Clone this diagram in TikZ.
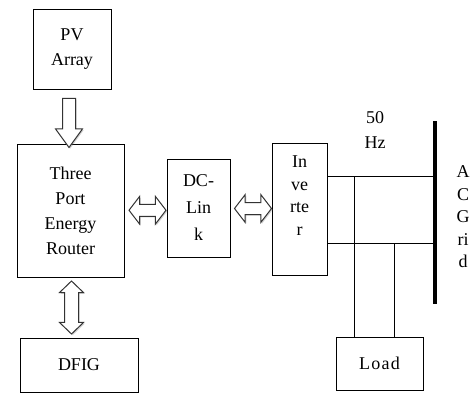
\documentclass[tikz,border=0pt]{standalone}
\usepackage{fontspec}
\setmainfont{Liberation Serif}
\usetikzlibrary{calc,shapes.arrows,shadows}
\begin{document}
\begin{tikzpicture}[x=1pt,y=-1pt,
  blk/.style={draw=black,line width=1pt,fill=white,align=center,inner sep=0pt,font=\fontsize{18}{25}\selectfont},
  blkarrow/.style={draw=black!80,line width=1pt,fill=white,inner xsep=0pt,
     drop shadow={opacity=0.35,shadow xshift=1.2pt,shadow yshift=-1.2pt}},
  sarr/.style={blkarrow,single arrow,single arrow tip angle=72},
  darr/.style={blkarrow,double arrow,double arrow tip angle=105},
  wire/.style={line width=1pt},
  lbl/.style={align=center,inner sep=0pt,font=\fontsize{18}{25}\selectfont}]
\useasboundingbox (0,0) rectangle (473,394);
\fill[white] (0,0) rectangle (473,394);
% boxes
\node[blk,minimum width=78pt,minimum height=80pt] (pv) at (72,49) {PV\\Array};
\node[blk,minimum width=107pt,minimum height=133pt] (tper) at (70.5,210.5) {Three\\Port\\Energy\\Router};
\node[blk,minimum width=63pt,minimum height=98pt,font=\fontsize{18}{27}\selectfont] (dc) at (198.5,208) {DC-\\Lin\\k};
\node[blk,minimum width=55pt,minimum height=132pt,font=\fontsize{18}{22.5}\selectfont] (inv) at (299.5,209) {In\\ve\\rte\\r\\[4pt]};
\node[blk,minimum width=118pt,minimum height=54pt] (dfig) at (79,365) {DFIG};
\node[blk,minimum width=87pt,minimum height=53pt] (load) at (379.5,363.5) {\addfontfeature{LetterSpace=7}Load};
% block arrows
\node[sarr,rotate=-90,minimum height=49pt,inner ysep=6pt,single arrow head extend=7pt] (a1) at (69,118.5) {};
\node[darr,minimum height=37pt,inner ysep=5.5pt,double arrow head extend=8pt] (a2) at ($(tper.east)!0.5!(dc.west)+(2,1)$) {};
\node[darr,minimum height=37pt,inner ysep=5.5pt,double arrow head extend=8pt] (a3) at ($(dc.east)!0.5!(inv.west)+(2,0)$) {};
\node[darr,double arrow tip angle=92,rotate=90,minimum height=53pt,inner ysep=6.5pt,double arrow head extend=5pt] (a4) at (71.5,307.5) {};
% AC bus
\coordinate (bt) at (435,121);
\coordinate (bb) at (435,304);
\draw[line width=4pt] (bt) -- (bb);
\coordinate (g1) at (435,176);
\coordinate (g2) at (435,243);
\coordinate (j1) at (354,176);
\coordinate (j2) at (394,243);
\draw[wire] (inv.east |- g1) -- (g1);
\draw[wire] (inv.east |- g2) -- (g2);
\draw[wire] (j1) -- (j1 |- load.north);
\draw[wire] (j2) -- (j2 |- load.north);
% labels
\node[lbl] (hz) at (375,130) {50\\Hz};
\node[lbl,font=\fontsize{18}{22.5}\selectfont] (grid) at (463,217) {A\\C\\G\\ri\\d};
\end{tikzpicture}
\end{document}
